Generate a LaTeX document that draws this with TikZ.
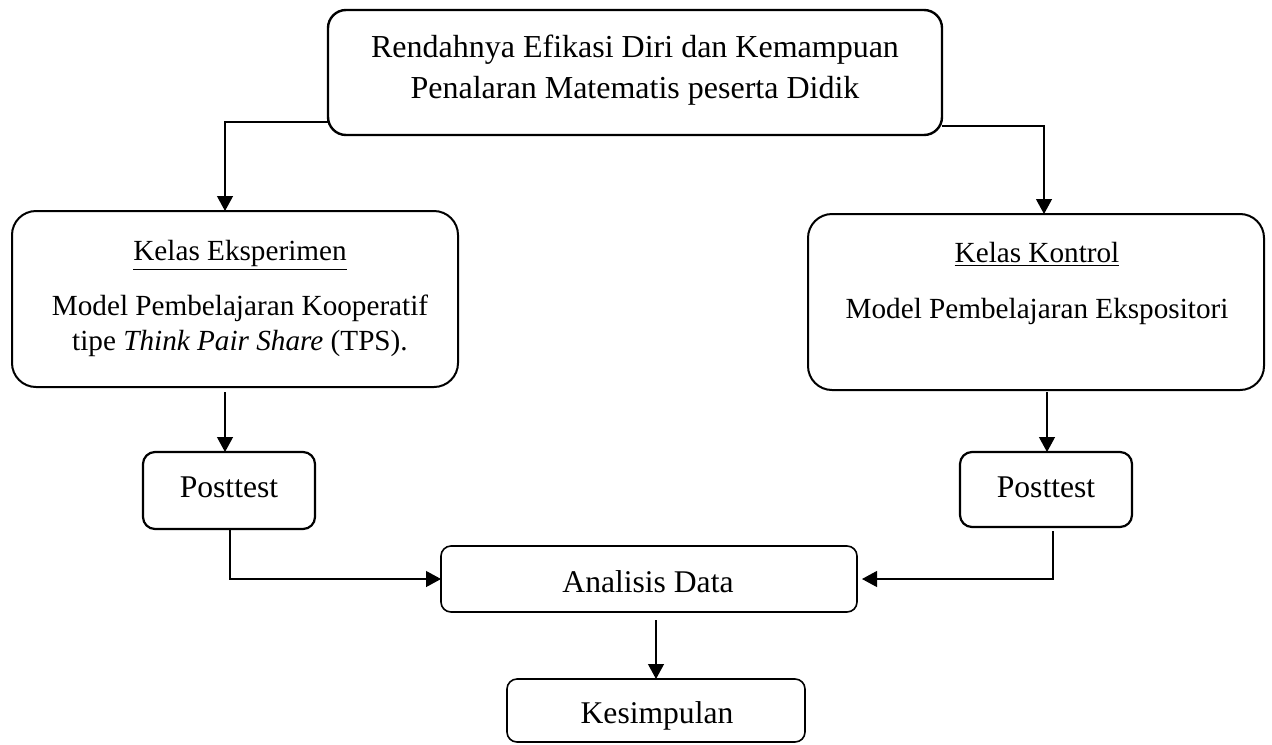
\documentclass[tikz,border=0pt]{standalone}
\usepackage{fontspec}
\setmainfont{Liberation Serif}
\usetikzlibrary{arrows.meta}
\begin{document}
\begin{tikzpicture}[x=0.5pt,y=-0.5pt,
  box/.style={draw, line width=1pt, inner sep=0pt, outer sep=0pt},
  lbl/.style={font=\fontsize{15}{20.5}\selectfont, anchor=base, inner sep=0pt, align=center},
  big/.style={font=\fontsize{16}{20.5}\selectfont},
  mid/.style={font=\fontsize{14.6}{18}\selectfont},
  sml/.style={font=\fontsize{15.8}{19}\selectfont},
  arr/.style={line width=0.6pt, -{Triangle[length=7.5pt,width=8pt]}}]
\useasboundingbox (0,0) rectangle (1272,744);
% boxes
\node[box, line width=1.2pt, rounded corners=9pt, minimum width=307pt, minimum height=62.5pt] (top) at (635,72.5) {};
\node[box, rounded corners=12pt, minimum width=223pt, minimum height=88pt] (lbox) at (235,299) {};
\node[box, rounded corners=12pt, minimum width=228pt, minimum height=88pt] (rbox) at (1036,302) {};
\node[box, line width=1.1pt, rounded corners=6pt, minimum width=86pt, minimum height=38.5pt] (lpost) at (229,490.5) {};
\node[box, line width=1.1pt, rounded corners=6pt, minimum width=86pt, minimum height=37.5pt] (rpost) at (1046,489.5) {};
\node[box, line width=0.8pt, rounded corners=5pt, minimum width=208pt, minimum height=33pt] (ana) at (649,579) {};
\node[box, line width=0.8pt, rounded corners=5pt, minimum width=149pt, minimum height=31.5pt] (kes) at (656,710.5) {};
% texts
\node[lbl, big] (ttop) at (635,98) {Rendahnya Efikasi Diri dan Kemampuan\\Penalaran Matematis peserta Didik};
\node[lbl, mid] (tl1) at (240,260) {\underline{Kelas Eksperimen}};
\node[lbl, mid] (tl2) at (240,315) {Model Pembelajaran Kooperatif};
\node[lbl, mid] (tl3) at (240,350) {tipe \textit{Think Pair Share} (TPS).};
\node[lbl, mid] (tr1) at (1037,262) {\underline{Kelas Kontrol}};
\node[lbl, mid] (tr2) at (1037,318) {Model Pembelajaran Ekspositori};
\node[lbl, sml] (tlp) at (229,497) {Posttest};
\node[lbl, sml] (trp) at (1046,497) {Posttest};
\node[lbl, sml] (tana) at (648,592) {Analisis Data};
\node[lbl, sml] (tkes) at (657,723) {Kesimpulan};
% connectors
\draw[arr] (top.west |- 0,122) -| (lbox.north -| 225,0);
\draw[arr] (top.east |- 0,126) -| (rbox.north -| 1044,0);
\draw[arr, shorten <=2.5pt] (lbox.south -| 225,0) -- (lpost.north -| 225,0);
\draw[arr, shorten <=1pt] (rbox.south -| 1047,0) -- (rpost.north -| 1047,0);
\draw[arr] (lpost.south -| 230,0) |- (ana.west);
\draw[arr, shorten <=2pt, shorten >=2.5pt] (rpost.south -| 1053,0) |- (ana.east);
\draw[arr, shorten <=4pt] (ana.south -| 656,0) -- (kes.north -| 656,0);
\end{tikzpicture}
\end{document}
